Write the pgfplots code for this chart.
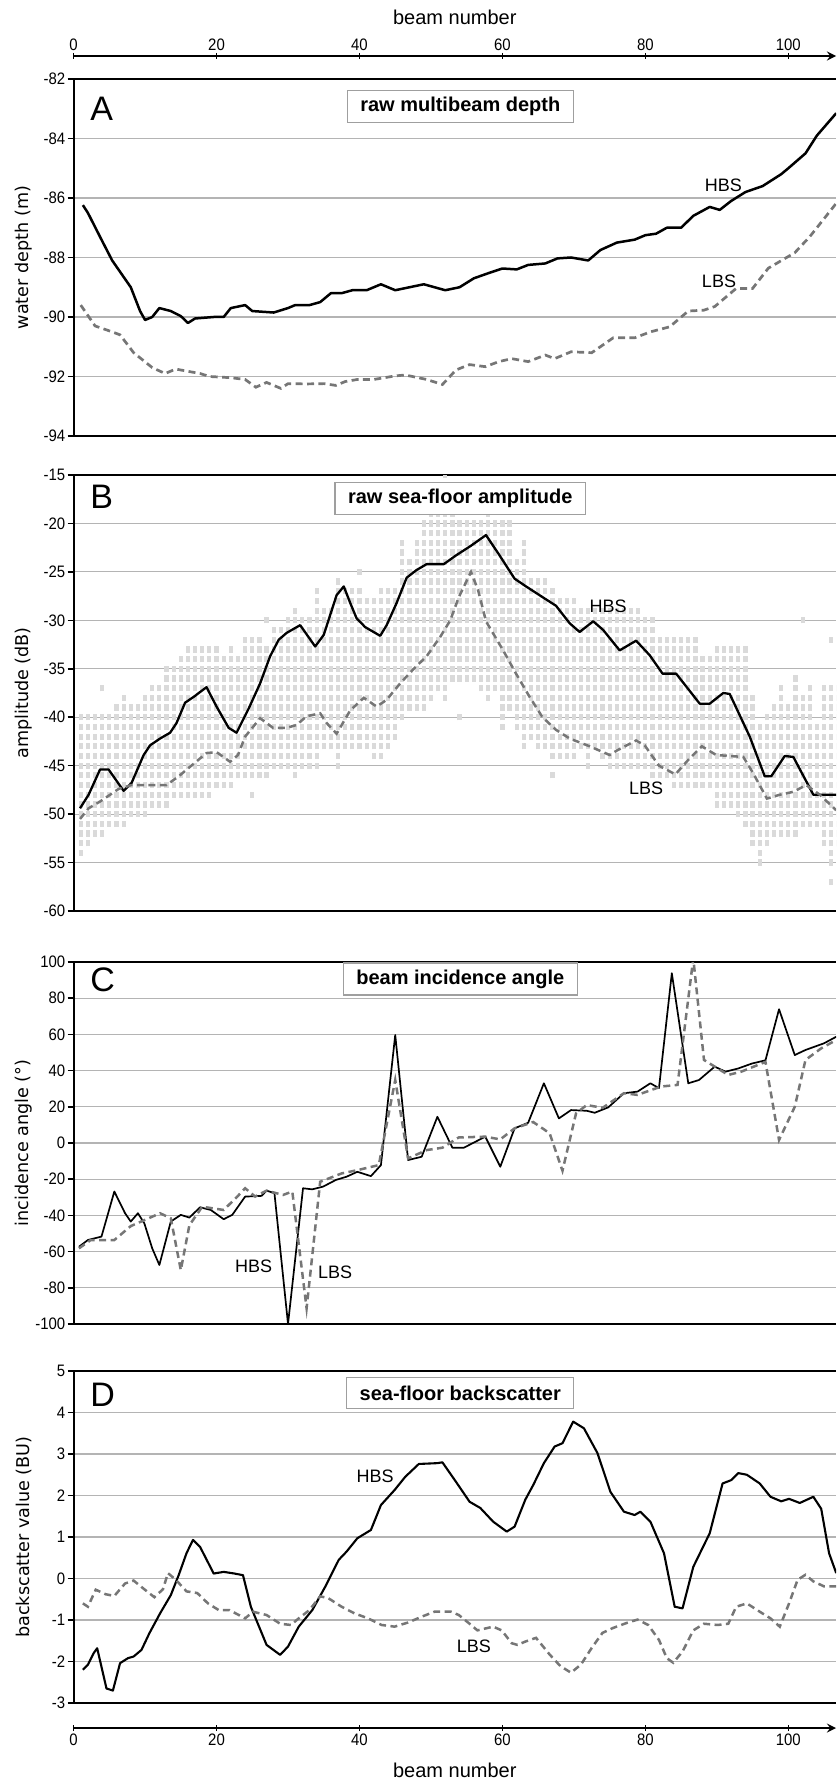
\documentclass[border=0pt]{standalone}
\usepackage{fontspec}
\setmainfont{Liberation Sans}
\newfontfamily\tickfont[FakeStretch=0.9]{Liberation Sans}
\newfontfamily\ylabfont{DejaVu Sans}
\usepackage{pgfplots}
\usepackage{pgfplotstable}
\pgfplotsset{compat=1.18}
\definecolor{lbsgray}{RGB}{118,118,118}
\definecolor{cloudgray}{RGB}{218,218,218}
\definecolor{gridgray}{RGB}{180,180,180}

\pgfplotstableread{
b lo hi
1 -54 -40
2 -53 -40
3 -52 -40
4 -52 -40
4 -37 -37
5 -51 -40
6 -51 -39
7 -51 -39
7 -38 -38
8 -50 -39
9 -50 -39
10 -50 -38
11 -49 -37
12 -49 -37
13 -49 -35
14 -48 -35
15 -48 -34
16 -48 -33
17 -48 -33
18 -48 -33
19 -48 -33
20 -47 -33
21 -47 -34
22 -47 -33
23 -46 -34
24 -46 -32
25 -46 -32
25 -48 -48
26 -46 -32
27 -46 -33
27 -30 -30
28 -45 -31
29 -45 -31
30 -45 -30
31 -46 -29
32 -45 -30
33 -45 -30
34 -45 -27
35 -43 -29
36 -43 -29
37 -45 -27
37 -26 -26
38 -43 -27
39 -43 -27
40 -43 -27
40 -25 -25
41 -43 -28
42 -44 -28
43 -44 -27
44 -43 -27
45 -42 -27
46 -40 -22
47 -39 -24
48 -39 -22
49 -39 -20
50 -38 -19
51 -37 -19
52 -38 -19
52 -15 -15
53 -36 -19
54 -36 -20
54 -40 -40
55 -36 -20
56 -36 -20
57 -37 -20
58 -38 -19
59 -37 -20
60 -41 -20
61 -39 -20
62 -41 -24
63 -43 -22
64 -42 -26
65 -43 -26
66 -43 -26
67 -44 -27
67 -46 -46
68 -44 -28
69 -44 -28
70 -44 -28
71 -43 -29
72 -45 -29
73 -43 -29
74 -44 -29
75 -45 -29
76 -45 -29
77 -45 -29
78 -45 -29
79 -45 -29
80 -45 -30
81 -46 -30
82 -46 -32
83 -46 -32
84 -47 -32
85 -47 -32
86 -47 -32
87 -47 -32
88 -47 -34
89 -47 -34
90 -49 -33
91 -49 -33
92 -49 -33
93 -50 -33
94 -51 -33
95 -53 -38
96 -55 -41
97 -53 -40
98 -52 -39
99 -52 -37
100 -52 -39
101 -52 -36
102 -51 -38
102 -30 -30
103 -51 -37
104 -51 -41
105 -53 -37
106 -55 -37
106 -57 -57
106 -32 -32
107 -53 -37
}\cloud

\pgfplotsset{
  /pgf/number format/assume math mode=true,
  panel/.style={
    scale only axis, width=381.2pt, xmin=0, xmax=106.67,
    axis x line=box, axis y line=left,
    axis line style={-, line width=1pt, black},
    xtick=\empty, ytick align=outside, ytick pos=left,
    major tick length=3pt, tick style={line width=0.8pt, black},
    ymajorgrids, major grid style={line width=0.6pt, gridgray},
    yticklabel style={font=\tickfont\fontsize{8.3}{9}\selectfont, inner sep=1pt},
    ylabel style={font=\ylabfont\fontsize{8.8}{10}\selectfont,
      at={(axis description cs:-0.0655,0.5)}, anchor=center},
    clip=true,
  },
  hbs/.style={black, line width=1.15pt, mark=none, line join=round},
  lbs/.style={lbsgray, line width=1.25pt, mark=none, dash pattern=on 3.5pt off 2.2pt},
  beamaxis/.style={
    scale only axis, width=381.2pt, height=1pt, xmin=0, xmax=106.67, ymin=0, ymax=1,
    axis y line=none, ytick=\empty,
    axis line style={-, line width=1pt, black},
    xtick={0,20,40,60,80,100}, xtick align=outside, major tick length=3pt,
    tick style={line width=0.8pt, black},
    xticklabel style={font=\tickfont\fontsize{8.3}{9}\selectfont, inner sep=1pt},
  },
}
\newcommand{\titlebox}[2]{\node[draw=gray!75, line width=0.6pt, fill=white, inner xsep=6.5pt,
  minimum height=15.5pt, font=\bfseries\fontsize{10}{12}\selectfont] at (#1) {#2};}
\newcommand{\lab}[2]{\node[font=\fontsize{9}{10}\selectfont] at (axis cs:#1) {#2};}
\newcommand{\panelletter}[2]{\node[anchor=north west, inner sep=0pt, font=\fontsize{17}{17}\selectfont] at ([xshift=8.2pt,yshift=#1]rel axis cs:0,1) {#2};}

\begin{document}
\begin{tikzpicture}
\path[use as bounding box] (0,0) rectangle (418pt,-890.5pt);
\clip (0,0) rectangle (418pt,-890.5pt);

% top beam axis
\begin{axis}[beamaxis, at={(36.8pt,-28pt)}, anchor=north west, axis x line=top,
  xlabel={beam number},
  xlabel style={font=\fontsize{10}{12}\selectfont, at={(axis description cs:0.5,1)}, anchor=center, yshift=19.5pt}]
\addplot[draw=none] coordinates {(0,0) (1,1)};
\end{axis}

% bottom beam axis
\begin{axis}[beamaxis, at={(36.8pt,-864pt)}, anchor=south west, axis x line=bottom,
  xlabel={beam number},
  xlabel style={font=\fontsize{10}{12}\selectfont, at={(axis description cs:0.5,0)}, anchor=center, yshift=-21pt}]
\addplot[draw=none] coordinates {(0,0) (1,1)};
\end{axis}

% Panel A
\begin{axis}[panel, at={(36.8pt,-39.5pt)}, anchor=north west, height=178.5pt,
  ymin=-94, ymax=-82, ytick={-94,-92,-90,-88,-86,-84,-82},
  ylabel={water depth (m)}]
\addplot[hbs, line width=1.25pt] coordinates {(1.3,-86.24) (2,-86.5) (3.9,-87.4) (5.4,-88.1) (8,-89.0) (9.3,-89.8) (10,-90.1) (11,-90.0) (12,-89.7) (13.6,-89.8) (15,-89.97) (16,-90.2) (17,-90.05) (19.6,-90.0) (21,-90.0) (22,-89.7) (24,-89.6) (25,-89.8) (28,-89.85) (30,-89.7) (31,-89.6) (33,-89.6) (34.5,-89.5) (36,-89.2) (37.5,-89.2) (39,-89.1) (41,-89.1) (43,-88.9) (45,-89.1) (47,-89.0) (49,-88.9) (52,-89.1) (54,-89.0) (56,-88.7) (58,-88.53) (60,-88.37) (62,-88.4) (63.6,-88.25) (66,-88.2) (67.7,-88.03) (69.6,-88.0) (72,-88.1) (73.7,-87.75) (76,-87.5) (78.5,-87.4) (80,-87.25) (81.5,-87.2) (83,-87.0) (85,-87.0) (86.7,-86.6) (89,-86.3) (90.4,-86.4) (92,-86.1) (94,-85.8) (96.4,-85.6) (99,-85.2) (100,-85.0) (102.4,-84.5) (104,-83.9) (106.7,-83.15)};
\addplot[lbs, line width=1.35pt] coordinates {(1,-89.6) (3,-90.3) (5.4,-90.5) (6.5,-90.6) (8.4,-91.2) (11,-91.7) (12.8,-91.9) (14.3,-91.75) (15.4,-91.8) (17.7,-91.9) (19,-92.0) (22,-92.04) (24,-92.1) (25.5,-92.36) (27,-92.2) (29,-92.4) (30,-92.24) (32.6,-92.25) (35,-92.24) (36.7,-92.3) (38,-92.17) (39.7,-92.1) (42,-92.1) (45,-91.98) (46.4,-91.95) (49.4,-92.1) (51.6,-92.27) (53.5,-91.78) (55.4,-91.6) (57.6,-91.67) (59.5,-91.5) (61.3,-91.4) (63.6,-91.5) (66,-91.28) (67.3,-91.4) (69.6,-91.17) (72.5,-91.2) (75.5,-90.7) (78.5,-90.7) (80.7,-90.5) (83.4,-90.33) (86,-89.8) (88.2,-89.77) (89.7,-89.65) (92.7,-89.04) (95,-89.04) (97.2,-88.36) (100.9,-87.84) (103,-87.3) (106.7,-86.18)};
\lab{90.9,-85.56}{HBS}
\lab{90.3,-88.8}{LBS}
\panelletter{-9pt}{A}
\titlebox{[yshift=-13.75pt]rel axis cs:0.5072,1}{raw multibeam depth}
\end{axis}

% Panel B
\begin{axis}[panel, at={(36.8pt,-237.5pt)}, anchor=north west, height=218pt,
  ymin=-60, ymax=-15, ytick={-60,-55,-50,-45,-40,-35,-30,-25,-20,-15},
  ylabel={amplitude (dB)}]
\addplot[draw=none, mark=none, forget plot,
  error bars/.cd, y dir=plus, y explicit, error mark=none,
  error bar style={draw=cloudgray, solid, line width=2.1pt, dash pattern=on 3.1pt off 1.7444pt}]
  table[x=b, y expr=\thisrow{lo}-0.32, y error plus expr=\thisrow{hi}-\thisrow{lo}+0.64] {\cloud};
\addplot[hbs] coordinates {(0.9,-49.4) (2.1,-48.0) (3.7,-45.4) (4.9,-45.4) (7,-47.6) (8.1,-46.8) (9.8,-43.9) (10.7,-42.9) (12.1,-42.2) (13.5,-41.6) (14.4,-40.6) (15.6,-38.5) (16.8,-37.9) (18.6,-36.9) (20,-38.9) (21.7,-41.1) (22.8,-41.6) (24.5,-39.1) (26.1,-36.5) (27.5,-33.7) (28.7,-32.0) (29.8,-31.3) (31.7,-30.5) (33.8,-32.7) (35,-31.5) (36.8,-27.4) (37.8,-26.5) (38.7,-28.2) (39.6,-29.8) (40.8,-30.7) (42.9,-31.6) (43.8,-30.5) (45.2,-28.2) (46.6,-25.6) (48,-24.8) (49.4,-24.2) (51.8,-24.2) (53.5,-23.3) (55.6,-22.3) (57.7,-21.2) (59.6,-23.3) (61.7,-25.7) (63.3,-26.5) (65.6,-27.6) (67.5,-28.5) (69.4,-30.3) (70.8,-31.2) (72.7,-30.1) (74.1,-31.0) (76.4,-33.1) (78.7,-32.1) (80.6,-33.6) (82.4,-35.5) (84.3,-35.5) (87.6,-38.6) (89,-38.6) (90.9,-37.5) (91.8,-37.6) (94.6,-42.0) (96.7,-46.1) (97.6,-46.1) (99.5,-44.0) (100.7,-44.1) (103.5,-48.0) (106.7,-48.0)};
\addplot[lbs] coordinates {(0.9,-50.5) (2.1,-49.4) (3.7,-48.7) (5.1,-48.0) (6.3,-47.4) (8.1,-47.0) (13,-47.0) (14.7,-46.1) (16.8,-44.8) (18.6,-43.7) (20,-43.6) (21.9,-44.6) (23,-43.9) (24,-42.0) (26.1,-40.1) (27.9,-41.1) (29.8,-41.1) (31.2,-40.8) (32.6,-39.9) (34.5,-39.6) (35.4,-40.6) (36.8,-41.7) (38.7,-39.3) (40.6,-38.0) (42.4,-38.9) (43.8,-38.2) (45.7,-36.5) (47.6,-35.0) (49.4,-33.7) (51.3,-31.7) (52.7,-30.0) (53.9,-27.6) (55.6,-25.0) (56.6,-26.9) (57.7,-30.1) (60.1,-33.1) (61.9,-35.5) (63.8,-37.9) (65.6,-40.0) (67.5,-41.3) (69.4,-42.2) (72.2,-43.0) (75,-43.9) (76.1,-43.4) (78.7,-42.4) (79.9,-42.9) (81.9,-45.0) (84.2,-45.9) (86,-44.4) (87.9,-43.0) (89.9,-43.9) (93.7,-44.1) (95.1,-45.8) (97,-48.4) (98.8,-48.0) (100.7,-47.7) (102.5,-47.0) (104.4,-48.0) (106.7,-49.6)};
\lab{74.8,-28.6}{HBS}
\lab{80.1,-47.3}{LBS}
\panelletter{-5pt}{B}
\titlebox{[yshift=-11.75pt]rel axis cs:0.5072,1}{raw sea-floor amplitude}
\end{axis}

% Panel C
\begin{axis}[panel, at={(36.8pt,-481pt)}, anchor=north west, height=181pt,
  ymin=-100, ymax=100, ytick={-100,-80,-60,-40,-20,0,20,40,60,80,100},
  ylabel={incidence angle (°)}]
\addplot[hbs, line width=0.85pt] coordinates {(0.75,-57.3) (2,-53.6) (3.9,-51.7) (5.7,-26.8) (7.2,-38.8) (8,-43.4) (9,-38.8) (9.9,-44.4) (11,-58.2) (12,-67.4) (13.6,-43.4) (15,-39.7) (16.2,-41.2) (17.7,-35.5) (19.2,-37.0) (21,-42.1) (22.2,-39.7) (24,-29.6) (26.3,-29.2) (27,-26.3) (28.1,-27.7) (30,-100) (32.1,-25.0) (33.4,-25.6) (34.9,-24.1) (36.7,-20.4) (38.2,-18.6) (39.7,-15.9) (41.6,-18.3) (43,-12.2) (45,59.7) (46.8,-9.4) (48.7,-7.6) (50.9,14.5) (53,-2.6) (54.6,-2.6) (57.6,3.5) (59.7,-13.1) (61.7,8.1) (63.6,11.2) (65.8,33) (67.9,13.6) (69.6,18.2) (71.8,17.8) (72.9,16.7) (74.8,19.7) (77,27.5) (78.9,28.4) (80.7,33.0) (81.9,30.3) (83.7,93.8) (86,33) (87.5,34.8) (89.7,42.2) (91.2,39.4) (93,41.2) (94.9,43.9) (96.8,45.7) (98.7,73.9) (100.9,48.6) (102.4,51.4) (105,55.1) (106.7,58.7)};
\addplot[lbs] coordinates {(0.75,-58.2) (2.4,-53.6) (5.7,-53.6) (8,-45.9) (12.1,-38.8) (13.6,-41.6) (15,-70.2) (16.2,-45.4) (18,-35.2) (21,-37.0) (22.9,-29.6) (24,-25.0) (25.4,-29.6) (27,-26.3) (29.3,-28.7) (30.6,-26.8) (32.6,-91.3) (34.5,-21.4) (37.5,-16.8) (39.7,-15.0) (42.7,-12.2) (45,34.8) (46.8,-8.5) (49.4,-3.9) (51.6,-2.6) (53.9,3.1) (57.6,3.5) (59.7,2) (61.7,8.1) (64.3,11.6) (66.6,5.4) (68.4,-15.3) (70.3,16.4) (71.8,21) (74,19.4) (77,27.5) (78.9,26.6) (82.2,31.2) (84.5,32.1) (86.7,102) (88.2,45.9) (89.7,42.2) (91.6,37.6) (93.4,39.4) (96.8,44.8) (98.7,1.7) (100.9,20) (102.4,45.9) (104.6,52.3) (106.7,56.9)};
\lab{25.2,-68.3}{HBS}
\lab{36.6,-71.7}{LBS}
\panelletter{-2.5pt}{C}
\titlebox{[yshift=-8.5pt]rel axis cs:0.5072,1}{beam incidence angle}
\end{axis}

% Panel D
\begin{axis}[panel, at={(36.8pt,-685.5pt)}, anchor=north west, height=166pt,
  ymin=-3, ymax=5, ytick={-3,-2,-1,0,1,2,3,4,5},
  ylabel={backscatter value (BU)}]
\addplot[hbs, line width=1.05pt] coordinates {(1.3,-2.2) (2,-2.08) (2.8,-1.8) (3.3,-1.68) (4.6,-2.65) (5.5,-2.7) (6.5,-2.04) (7.6,-1.92) (8.4,-1.88) (9.5,-1.72) (10.6,-1.32) (12.1,-0.84) (13.6,-0.4) (14.7,0.08) (15.8,0.61) (16.7,0.93) (17.7,0.76) (19.6,0.12) (21,0.16) (22.5,0.12) (23.7,0.08) (24.8,-0.68) (27,-1.6) (28.9,-1.84) (30,-1.64) (31.5,-1.16) (33.4,-0.76) (35.2,-0.2) (37.1,0.45) (38.2,0.65) (39.7,0.97) (41.6,1.17) (43,1.77) (44.9,2.13) (46.4,2.45) (48.3,2.76) (50.9,2.78) (51.6,2.8) (53.5,2.33) (55.4,1.85) (56.9,1.7) (58.7,1.37) (60.6,1.13) (61.7,1.25) (63.2,1.9) (64.3,2.25) (65.8,2.78) (67.3,3.18) (68.4,3.26) (69.9,3.78) (71.4,3.62) (73.3,3.02) (75.1,2.09) (77,1.61) (78.5,1.53) (79.3,1.61) (80.7,1.37) (82.6,0.61) (84.1,-0.68) (85.2,-0.72) (86.7,0.28) (89,1.09) (90.8,2.29) (92,2.37) (93,2.54) (94.2,2.5) (96,2.29) (97.5,1.97) (99,1.86) (100.1,1.92) (101.6,1.82) (103.5,1.97) (104.6,1.68) (105.7,0.61) (106.7,0.13)};
\addplot[lbs] coordinates {(1.3,-0.6) (2,-0.68) (3.1,-0.27) (4.5,-0.38) (5.7,-0.42) (7.2,-0.12) (8.4,-0.05) (9.9,-0.26) (11.3,-0.45) (12.5,-0.26) (13.2,0.13) (14.3,-0.03) (15.8,-0.31) (17.3,-0.35) (18.8,-0.6) (20.3,-0.76) (21.8,-0.76) (24,-0.96) (25.1,-0.8) (27,-0.88) (28.9,-1.09) (30.4,-1.12) (31.5,-0.96) (33,-0.76) (34.5,-0.43) (35.6,-0.47) (37.5,-0.68) (39.3,-0.84) (41.2,-0.96) (43.1,-1.12) (44.9,-1.16) (46.8,-1.06) (48.7,-0.92) (50.5,-0.8) (52.8,-0.8) (53.9,-0.88) (55.4,-1.09) (56.5,-1.25) (58.7,-1.16) (59.9,-1.25) (61.3,-1.56) (62.1,-1.6) (63.2,-1.52) (64.7,-1.43) (66.6,-1.83) (68.1,-2.11) (69.6,-2.27) (71,-2.07) (72.5,-1.67) (74,-1.31) (75.5,-1.19) (77.4,-1.07) (78.9,-0.99) (80.4,-1.12) (81.9,-1.48) (83,-1.92) (83.9,-2.03) (85.2,-1.76) (86.7,-1.25) (88.2,-1.09) (90.1,-1.12) (91.6,-1.09) (92.7,-0.68) (94.2,-0.6) (96,-0.8) (97.5,-0.96) (98.8,-1.16) (100.1,-0.6) (101.3,-0.03) (102.4,0.09) (103.5,-0.07) (105,-0.19) (106.7,-0.19)};
\lab{42.2,2.47}{HBS}
\lab{56,-1.63}{LBS}
\panelletter{-6pt}{D}
\titlebox{[yshift=-11pt]rel axis cs:0.5072,1}{sea-floor backscatter}
\end{axis}
\end{tikzpicture}
\end{document}
